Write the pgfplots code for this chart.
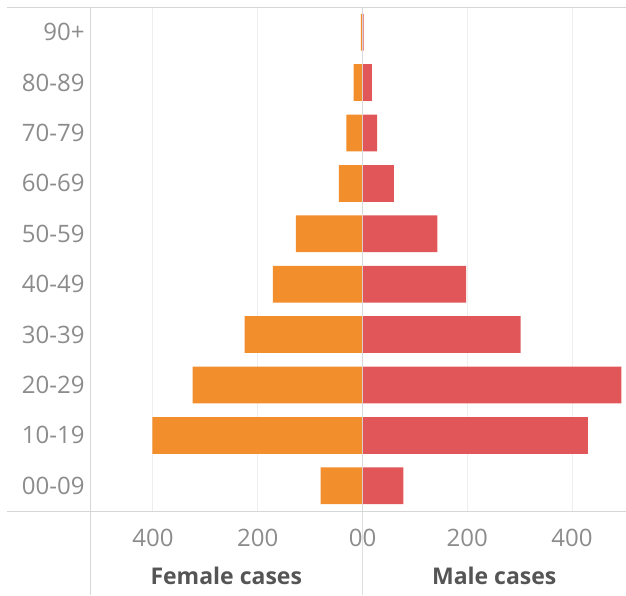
\documentclass[border=0pt]{standalone}
\usepackage{fontspec}
\setmainfont{Open Sans}
\usepackage{pgfplots}
\usepackage{pgfplotstable}
\pgfplotsset{compat=1.18}

\definecolor{fem}{HTML}{F28E2B}
\definecolor{mal}{HTML}{E15759}
\definecolor{lbl}{HTML}{8C8C8C}
\definecolor{ttl}{HTML}{555555}
\definecolor{grd}{HTML}{EEEEEE}
\definecolor{frm}{HTML}{D6D6D6}

% age group index: 0 = 00-09 ... 9 = 90+
\pgfplotstableread{
idx female male
0   80   78
1   401  430
2   324  494
3   225  302
4   171  198
5   127  143
6   45   60
7   31   28
8   17   18
9   3    2
}\agedata

\pgfplotsset{
  pyr/.style={
    scale only axis, height=504pt, anchor=south west,
    ymin=-0.5, ymax=9.5, xmin=0,
    xbar, bar width=0.73, bar shift=0pt,
    axis line style={draw=none}, major tick length=0pt,
    xmajorgrids, major grid style={grd, line width=0.8pt},
    xtick={0,200,400},
    tick label style={font=\fontsize{24}{24}\selectfont, text=lbl},
    xticklabel style={yshift=-15pt},
    yticklabel style={xshift=-2pt},
    xlabel style={font=\bfseries\fontsize{23}{23}\selectfont, text=ttl,
      at={(axis description cs:0.5,0)}, anchor=center, yshift=-65pt},
    clip=false,
  }
}

\begin{document}
\begin{tikzpicture}
\useasboundingbox (0,0) rectangle (626pt,595pt);

\begin{axis}[pyr,
    at={(90pt,84pt)}, width=272.5pt,
    x dir=reverse, xmax=520,
    ytick={0,...,9},
    yticklabels={00-09,10-19,20-29,30-39,40-49,50-59,60-69,70-79,80-89,90+},
    xticklabels={\makebox[0pt][r]{0},200,400},
    xlabel={Female cases}]
\addplot[fill=fem, draw=none] table[x=female, y=idx] {\agedata};
\end{axis}

\begin{axis}[pyr,
    at={(362.5pt,84pt)}, width=263.5pt,
    xmax=503,
    ytick=\empty,
    xticklabels={\makebox[0pt][l]{0},200,400},
    xlabel={Male cases}]
\addplot[fill=mal, draw=none] table[x=male, y=idx] {\agedata};
\end{axis}

% frame lines
\draw[frm, line width=0.9pt] (7pt,588pt) -- (626pt,588pt);
\draw[frm, line width=0.9pt] (7pt,84pt) -- (626pt,84pt);
\draw[frm, line width=0.9pt] (90pt,588pt) -- (90pt,0pt);
\draw[frm, line width=0.9pt, opacity=0.8] (362.5pt,588pt) -- (362.5pt,0pt);
\end{tikzpicture}
\end{document}
